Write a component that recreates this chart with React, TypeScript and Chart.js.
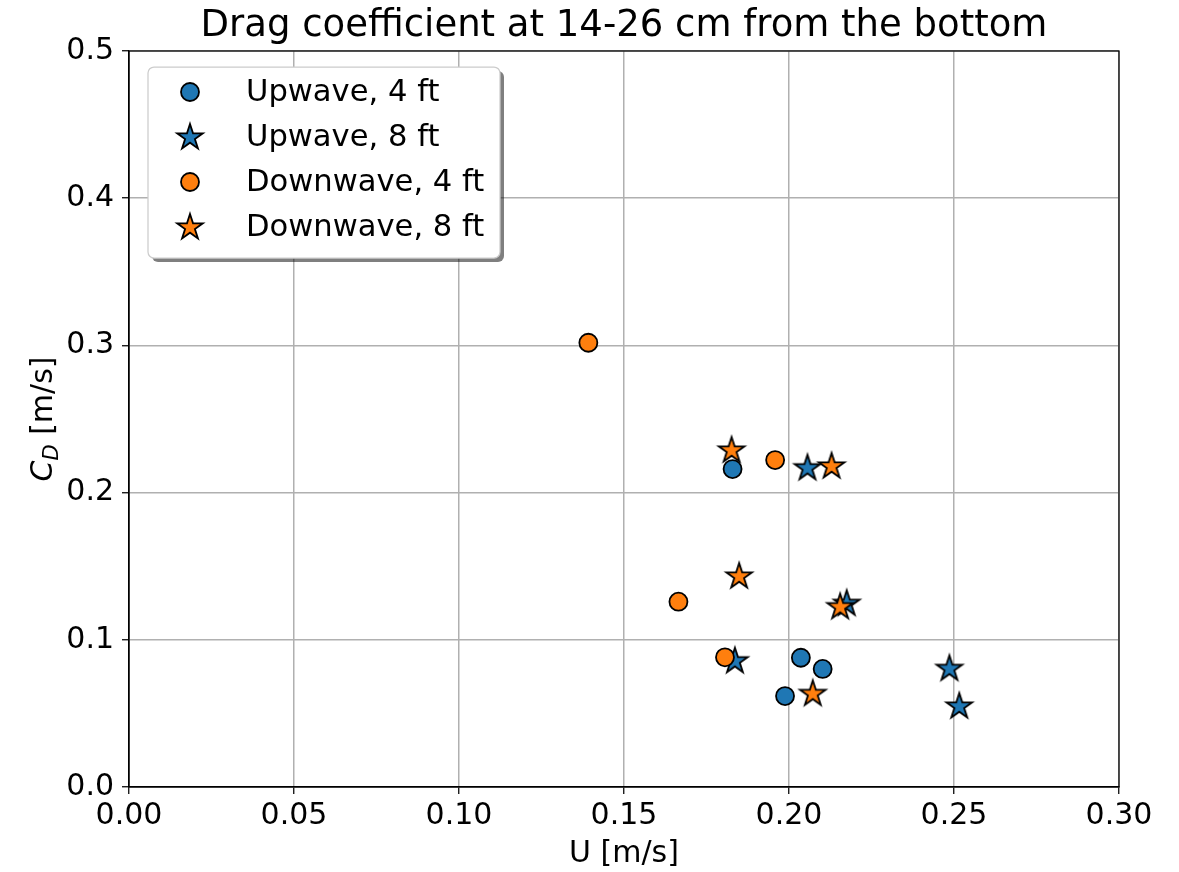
import React, { useEffect, useRef } from "react";
import { Chart, registerables } from "chart.js";

Chart.register(...registerables);

const titleText = "Drag coefficient at 14-26 cm from the bottom";
const xLabel = "U [m/s]";
const legendLabels = ["Upwave, 4 ft", "Upwave, 8 ft", "Downwave, 4 ft", "Downwave, 8 ft"];

const uw4X = [0.1829, 0.2036, 0.2102, 0.1988];
const uw4Y = [0.216, 0.0878, 0.0802, 0.0618];
const uw8X = [0.2056, 0.2175, 0.1836, 0.2486, 0.2516];
const uw8Y = [0.2169, 0.1248, 0.0858, 0.0806, 0.055];
const dw4X = [0.1392, 0.1958, 0.1665, 0.1806];
const dw4Y = [0.3018, 0.2221, 0.1259, 0.0881];
const dw8X = [0.1826, 0.2129, 0.1849, 0.2155, 0.2072];
const dw8Y = [0.2289, 0.2181, 0.1433, 0.1225, 0.0636];

const BLUE = "#1f77b4";
const ORANGE = "#ff7f0e";
const FONT = "'DejaVu Sans', sans-serif";

function zip(xs: number[], ys: number[]) {
  return xs.map((x, i) => ({ x, y: ys[i] }));
}

function makeStar(color: string): HTMLCanvasElement {
  const c = document.createElement("canvas");
  c.width = 34;
  c.height = 34;
  const ctx = c.getContext("2d")!;
  const cx = 17, cy = 17.5, R = 13.5, r = R * 0.381966;
  ctx.beginPath();
  for (let i = 0; i < 10; i++) {
    const rad = i % 2 === 0 ? R : r;
    const a = -Math.PI / 2 + (i * Math.PI) / 5;
    const px = cx + rad * Math.cos(a);
    const py = cy + rad * Math.sin(a);
    if (i === 0) ctx.moveTo(px, py);
    else ctx.lineTo(px, py);
  }
  ctx.closePath();
  ctx.fillStyle = color;
  ctx.fill();
  ctx.lineWidth = 1.8;
  ctx.lineJoin = "miter";
  ctx.strokeStyle = "#000";
  ctx.stroke();
  return c;
}

export default function App() {
  const ref = useRef<HTMLCanvasElement | null>(null);

  useEffect(() => {
    if (!ref.current) return;
    const blueStar = makeStar(BLUE);
    const orangeStar = makeStar(ORANGE);

    const overlay = {
      id: "overlay",
      afterDraw(chart: any) {
        const ctx = chart.ctx as CanvasRenderingContext2D;
        const a = chart.chartArea;
        ctx.save();
        // frame
        ctx.strokeStyle = "#000";
        ctx.lineWidth = 1.25;
        ctx.strokeRect(a.left, a.top, a.right - a.left, a.bottom - a.top);
        // title
        ctx.fillStyle = "#000";
        ctx.font = `37px ${FONT}`;
        ctx.textAlign = "center";
        ctx.textBaseline = "alphabetic";
        ctx.fillText(titleText, (a.left + a.right) / 2, 36);
        // x label
        ctx.font = `30px ${FONT}`;
        ctx.fillText(xLabel, (a.left + a.right) / 2, 862);
        // y label
        ctx.save();
        ctx.translate(52, (a.top + a.bottom) / 2);
        ctx.rotate(-Math.PI / 2);
        ctx.textAlign = "left";
        const fC = `italic 30px ${FONT}`;
        const fD = `italic 21px ${FONT}`;
        const fR = `30px ${FONT}`;
        ctx.font = fC;
        const wC = ctx.measureText("C").width;
        ctx.font = fD;
        const wD = ctx.measureText("D").width;
        ctx.font = fR;
        const wR = ctx.measureText(" [m/s]").width;
        let x0 = -(wC + wD + wR) / 2;
        ctx.font = fC;
        ctx.fillText("C", x0, 0);
        x0 += wC;
        ctx.font = fD;
        ctx.fillText("D", x0, 6);
        x0 += wD;
        ctx.font = fR;
        ctx.fillText(" [m/s]", x0, 0);
        ctx.restore();
        // legend
        const lx = 148, ly = 67, lw = 352, lh = 191, rr = 6;
        const rrect = (x: number, y: number, w: number, h: number) => {
          ctx.beginPath();
          ctx.moveTo(x + rr, y);
          ctx.arcTo(x + w, y, x + w, y + h, rr);
          ctx.arcTo(x + w, y + h, x, y + h, rr);
          ctx.arcTo(x, y + h, x, y, rr);
          ctx.arcTo(x, y, x + w, y, rr);
          ctx.closePath();
        };
        ctx.fillStyle = "rgba(0,0,0,0.5)";
        rrect(lx + 4, ly + 4, lw, lh);
        ctx.fill();
        ctx.fillStyle = "#fff";
        rrect(lx, ly, lw, lh);
        ctx.fill();
        ctx.strokeStyle = "#cccccc";
        ctx.lineWidth = 1.25;
        ctx.stroke();
        const rows = [92, 137, 182, 227];
        ctx.font = `30.6px ${FONT}`;
        ctx.textAlign = "left";
        ctx.textBaseline = "middle";
        rows.forEach((ry, i) => {
          const mx = 190;
          if (i === 0 || i === 2) {
            ctx.beginPath();
            ctx.arc(mx, ry, 9, 0, Math.PI * 2);
            ctx.fillStyle = i === 0 ? BLUE : ORANGE;
            ctx.fill();
            ctx.lineWidth = 1.8;
            ctx.strokeStyle = "#000";
            ctx.stroke();
          } else {
            const img = i === 1 ? blueStar : orangeStar;
            ctx.drawImage(img, mx - img.width / 2, ry - img.height / 2);
          }
          ctx.fillStyle = "#000";
          ctx.fillText(legendLabels[i], 246, ry + 1);
        });
        ctx.restore();
      },
    };

    const chart = new Chart(ref.current, {
      type: "scatter",
      data: {
        datasets: [
          {
            label: legendLabels[0],
            data: zip(uw4X, uw4Y),
            pointStyle: "circle",
            pointRadius: 9,
            backgroundColor: BLUE,
            borderColor: "#000",
            borderWidth: 1.8,
            order: 0,
          },
          {
            label: legendLabels[1],
            data: zip(uw8X, uw8Y),
            pointStyle: blueStar as any,
            pointRadius: 14,
            order: 3,
          },
          {
            label: legendLabels[2],
            data: zip(dw4X, dw4Y),
            pointStyle: "circle",
            pointRadius: 9,
            backgroundColor: ORANGE,
            borderColor: "#000",
            borderWidth: 1.8,
            order: 2,
          },
          {
            label: legendLabels[3],
            data: zip(dw8X, dw8Y),
            pointStyle: orangeStar as any,
            pointRadius: 14,
            order: 1,
          },
        ],
      },
      options: {
        responsive: false,
        animation: false,
        layout: { padding: { top: 51, right: 60, left: 0, bottom: 0 } },
        plugins: { legend: { display: false }, title: { display: false }, tooltip: { enabled: false } },
        scales: {
          x: {
            type: "linear",
            min: 0,
            max: 0.3,
            afterFit: (s: any) => { s.height = 85; },
            afterBuildTicks: (s: any) => {
              s.ticks = [0, 0.05, 0.1, 0.15, 0.2, 0.25, 0.3].map((v) => ({ value: v }));
            },
            ticks: {
              callback: (v: any) => Number(v).toFixed(2),
              font: { family: FONT, size: 30 },
              color: "#000",
              padding: 4,
              maxRotation: 0,
            },
            grid: { color: "#b0b0b0", lineWidth: 1.5, tickColor: "#000", tickLength: 7, tickWidth: 1.25 },
            border: { color: "#000", width: 1.25 },
          },
          y: {
            type: "linear",
            min: 0,
            max: 0.5,
            afterFit: (s: any) => { s.width = 129; },
            afterBuildTicks: (s: any) => {
              s.ticks = [0, 0.1, 0.2, 0.3, 0.4, 0.5].map((v) => ({ value: v }));
            },
            ticks: {
              callback: (v: any) => Number(v).toFixed(1),
              font: { family: FONT, size: 30 },
              color: "#000",
              padding: 8,
            },
            grid: { color: "#b0b0b0", lineWidth: 1.5, tickColor: "#000", tickLength: 7, tickWidth: 1.25 },
            border: { color: "#000", width: 1.25 },
          },
        },
      },
      plugins: [overlay],
    });
    return () => chart.destroy();
  }, []);

  return (
    <div style={{ position: "fixed", left: 0, top: 0, width: 1179, height: 872, background: "#fff" }}>
      <canvas ref={ref} width={1179} height={872} style={{ width: 1179, height: 872, display: "block" }} />
    </div>
  );
}
